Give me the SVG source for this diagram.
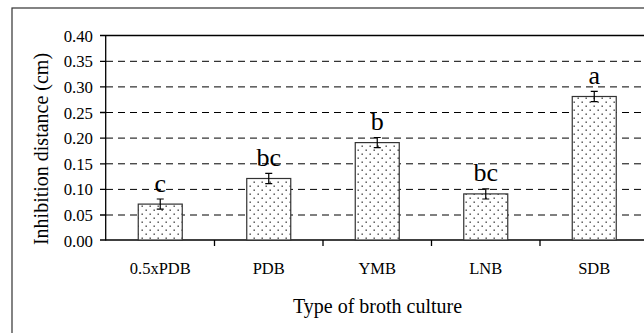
<svg xmlns="http://www.w3.org/2000/svg" width="644" height="333" viewBox="0 0 644 333">
<defs>
<pattern id="dots" width="8" height="8" patternUnits="userSpaceOnUse" x="0" y="0">
<rect width="8" height="8" fill="#fff"/>
<rect x="1.5" y="1.5" width="1.4" height="1.4" fill="#444"/>
<rect x="5.5" y="5.5" width="1.4" height="1.4" fill="#444"/>
</pattern>
</defs>
<style>
text{font-family:"Liberation Serif","Times New Roman",serif;fill:#000}
.tick{font-size:16.8px;text-anchor:end}
.cat{font-size:16.5px;text-anchor:middle}
.title{font-size:20px;text-anchor:middle}
.sig{font-size:26px;text-anchor:middle}
.grid{stroke:#000;stroke-width:1;stroke-dasharray:7 5}
.axis{stroke:#000;stroke-width:1.3;fill:none}
.bar{fill:url(#dots);stroke:#333;stroke-width:1.2}
.err{stroke:#000;stroke-width:1.2;fill:none}
</style>
<rect x="0" y="0" width="644" height="333" fill="#fff"/>
<rect x="12" y="8" width="700" height="400" fill="none" stroke="#333" stroke-width="1.2"/>
<g id="grid">
<line class="grid" x1="106" y1="61.3" x2="644" y2="61.3"/>
<line class="grid" x1="106" y1="86.9" x2="644" y2="86.9"/>
<line class="grid" x1="106" y1="112.5" x2="644" y2="112.5"/>
<line class="grid" x1="106" y1="138.1" x2="644" y2="138.1"/>
<line class="grid" x1="106" y1="163.8" x2="644" y2="163.8"/>
<line class="grid" x1="106" y1="189.4" x2="644" y2="189.4"/>
<line class="grid" x1="106" y1="215.0" x2="644" y2="215.0"/>
<line x1="106" y1="35.5" x2="644" y2="35.5" stroke="#000" stroke-width="1.3"/>
</g>
<g id="axes">
<line class="axis" x1="105.7" y1="35" x2="105.7" y2="240.5"/>
<line class="axis" x1="100" y1="240" x2="644" y2="240"/>
<path class="axis" d="M100 35.5H106M100 61.3H106M100 86.9H106M100 112.5H106M100 138.1H106M100 163.8H106M100 189.4H106M100 215H106M214.5 240V246M323 240V246M431.5 240V246M540 240V246"/>
<text class="tick" x="93" y="41.5">0.40</text>
<text class="tick" x="93" y="67.3">0.35</text>
<text class="tick" x="93" y="92.9">0.30</text>
<text class="tick" x="93" y="118.5">0.25</text>
<text class="tick" x="93" y="144.1">0.20</text>
<text class="tick" x="93" y="169.8">0.15</text>
<text class="tick" x="93" y="195.4">0.10</text>
<text class="tick" x="93" y="221">0.05</text>
<text class="tick" x="93" y="246.5">0.00</text>
</g>
<g id="bar-05xPDB">
<rect class="bar" x="138.25" y="204.1" width="44" height="35.9"/>
<path class="err" d="M160.25 199V209.2M156.75 199H163.75M156.75 209.2H163.75"/>
<text class="sig" x="160.25" y="191.5">c</text>
<text class="cat" x="160.25" y="274">0.5xPDB</text>
</g>
<g id="bar-PDB">
<rect class="bar" x="246.75" y="178.5" width="44" height="61.5"/>
<path class="err" d="M268.75 173.4V183.6M265.25 173.4H272.25M265.25 183.6H272.25"/>
<text class="sig" x="268.75" y="166">bc</text>
<text class="cat" x="268.75" y="274">PDB</text>
</g>
<g id="bar-YMB">
<rect class="bar" x="355.25" y="142.6" width="44" height="97.4"/>
<path class="err" d="M377.25 137.5V147.7M373.75 137.5H380.75M373.75 147.7H380.75"/>
<text class="sig" x="377.25" y="130">b</text>
<text class="cat" x="377.25" y="274">YMB</text>
</g>
<g id="bar-LNB">
<rect class="bar" x="463.75" y="193.9" width="44" height="46.1"/>
<path class="err" d="M485.75 188.8V199M482.25 188.8H489.25M482.25 199H489.25"/>
<text class="sig" x="485.75" y="181.3">bc</text>
<text class="cat" x="485.75" y="274">LNB</text>
</g>
<g id="bar-SDB">
<rect class="bar" x="572.25" y="96.5" width="44" height="143.5"/>
<path class="err" d="M594.25 91.4V101.6M590.75 91.4H597.75M590.75 101.6H597.75"/>
<text class="sig" x="594.25" y="84">a</text>
<text class="cat" x="594.25" y="274">SDB</text>
</g>
<text class="title" x="377.5" y="312.5">Type of broth culture</text>
<text class="title" transform="translate(48,149) rotate(-90)">Inhibition distance (cm)</text>
</svg>
